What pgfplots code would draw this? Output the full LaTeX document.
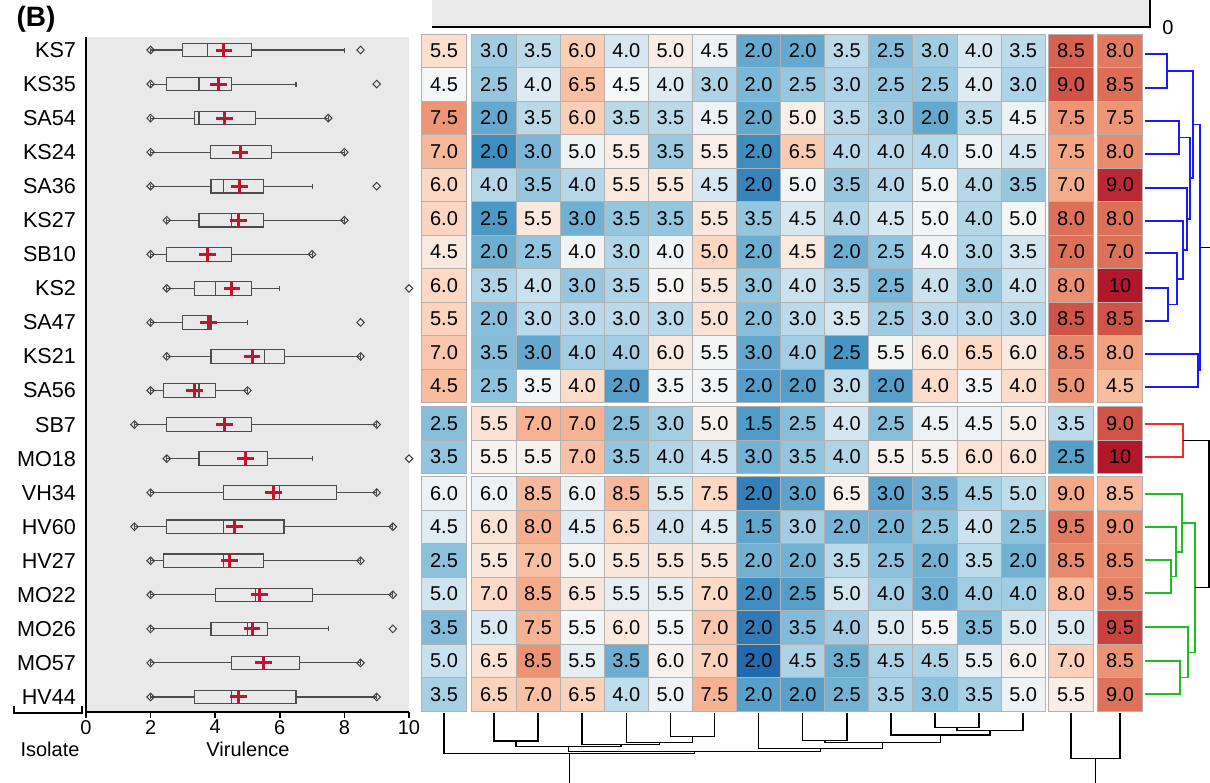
\documentclass[border=0pt]{standalone}
\usepackage{fontspec}
\setmainfont{Liberation Sans}
\usepackage{pgfplots}
\usepackage{pgfplotstable}
\pgfplotsset{compat=1.18}
\usepgfplotslibrary{statistics}
\pgfdeclareplotmark{cell}{\pgfpathrectangle{\pgfpoint{-11.025pt}{-8.375pt}}{\pgfpoint{22.05pt}{16.75pt}}\pgfusepathqfillstroke}
\definecolor{meanred}{RGB}{196,18,48}
\definecolor{dblue}{RGB}{25,25,255}
\definecolor{dred}{RGB}{255,40,40}
\definecolor{dgreen}{RGB}{30,190,30}
\definecolor{bggray}{RGB}{233,233,233}
\newcommand{\colx}[1]{\ifcase#1\or444\or494\or538.1\or582.2\or626.3\or670.4\or714.5\or758.6\or802.7\or846.8\or890.9\or935\or979.1\or1023.2\or1071\or1120\fi}

\pgfplotstableread{
y c1 c2 c3 c4 c5 c6 c7 c8 c9 c10 c11 c12 c13 c14 c15 c16
50.75 5.5 3.0 3.5 6.0 4.0 5.0 4.5 2.0 2.0 3.5 2.5 3.0 4.0 3.5 8.5 8.0
84.25 4.5 2.5 4.0 6.5 4.5 4.0 3.0 2.0 2.5 3.0 2.5 2.5 4.0 3.0 9.0 8.5
117.75 7.5 2.0 3.5 6.0 3.5 3.5 4.5 2.0 5.0 3.5 3.0 2.0 3.5 4.5 7.5 7.5
151.25 7.0 2.0 3.0 5.0 5.5 3.5 5.5 2.0 6.5 4.0 4.0 4.0 5.0 4.5 7.5 8.0
184.75 6.0 4.0 3.5 4.0 5.5 5.5 4.5 2.0 5.0 3.5 4.0 5.0 4.0 3.5 7.0 9.0
218.25 6.0 2.5 5.5 3.0 3.5 3.5 5.5 3.5 4.5 4.0 4.5 5.0 4.0 5.0 8.0 8.0
251.75 4.5 2.0 2.5 4.0 3.0 4.0 5.0 2.0 4.5 2.0 2.5 4.0 3.0 3.5 7.0 7.0
285.25 6.0 3.5 4.0 3.0 3.5 5.0 5.5 3.0 4.0 3.5 2.5 4.0 3.0 4.0 8.0 10
318.75 5.5 2.0 3.0 3.0 3.0 3.0 5.0 2.0 3.0 3.5 2.5 3.0 3.0 3.0 8.5 8.5
352.25 7.0 3.5 3.0 4.0 4.0 6.0 5.5 3.0 4.0 2.5 5.5 6.0 6.5 6.0 8.5 8.0
385.75 4.5 2.5 3.5 4.0 2.0 3.5 3.5 2.0 2.0 3.0 2.0 4.0 3.5 4.0 5.0 4.5
423.25 2.5 5.5 7.0 7.0 2.5 3.0 5.0 1.5 2.5 4.0 2.5 4.5 4.5 5.0 3.5 9.0
456.75 3.5 5.5 5.5 7.0 3.5 4.0 4.5 3.0 3.5 4.0 5.5 5.5 6.0 6.0 2.5 10
493.25 6.0 6.0 8.5 6.0 8.5 5.5 7.5 2.0 3.0 6.5 3.0 3.5 4.5 5.0 9.0 8.5
526.75 4.5 6.0 8.0 4.5 6.5 4.0 4.5 1.5 3.0 2.0 2.0 2.5 4.0 2.5 9.5 9.0
560.25 2.5 5.5 7.0 5.0 5.5 5.5 5.5 2.0 2.0 3.5 2.5 2.0 3.5 2.0 8.5 8.5
593.75 5.0 7.0 8.5 6.5 5.5 5.5 7.0 2.0 2.5 5.0 4.0 3.0 4.0 4.0 8.0 9.5
627.25 3.5 5.0 7.5 5.5 6.0 5.5 7.0 2.0 3.5 4.0 5.0 5.5 3.5 5.0 5.0 9.5
660.75 5.0 6.5 8.5 5.5 3.5 6.0 7.0 2.0 4.5 3.5 4.5 4.5 5.5 6.0 7.0 8.5
694.25 3.5 6.5 7.0 6.5 4.0 5.0 7.5 2.0 2.0 2.5 3.5 3.0 3.5 5.0 5.5 9.0
}\heat
\pgfplotstablecreatecol[create col/expr={(\thisrow{c1}+\thisrow{c2}+\thisrow{c3}+\thisrow{c4}+\thisrow{c5}+\thisrow{c6}+\thisrow{c7}+\thisrow{c8}+\thisrow{c9}+\thisrow{c10}+\thisrow{c11}+\thisrow{c12}+\thisrow{c13}+\thisrow{c14}+\thisrow{c15}+\thisrow{c16})/16}]{mean}{\heat}
\pgfplotstablecreatecol[create col/expr={sqrt((\thisrow{c1}*\thisrow{c1}+\thisrow{c2}*\thisrow{c2}+\thisrow{c3}*\thisrow{c3}+\thisrow{c4}*\thisrow{c4}+\thisrow{c5}*\thisrow{c5}+\thisrow{c6}*\thisrow{c6}+\thisrow{c7}*\thisrow{c7}+\thisrow{c8}*\thisrow{c8}+\thisrow{c9}*\thisrow{c9}+\thisrow{c10}*\thisrow{c10}+\thisrow{c11}*\thisrow{c11}+\thisrow{c12}*\thisrow{c12}+\thisrow{c13}*\thisrow{c13}+\thisrow{c14}*\thisrow{c14}+\thisrow{c15}*\thisrow{c15}+\thisrow{c16}*\thisrow{c16}-16*\thisrow{mean}*\thisrow{mean})/15)}]{sd}{\heat}

\begin{document}
\begin{tikzpicture}
\useasboundingbox (0,0) rectangle (605pt,-391pt);
\begin{axis}[
  at={(0pt,0pt)}, anchor=north west,
  scale only axis, width=605pt, height=391pt,
  xmin=0, xmax=1210, ymin=0, ymax=782, y dir=reverse,
  hide axis, clip=false,
  colormap={rdbu}{[1pt] rgb255(0pt)=(33,102,172) rgb255(5pt)=(67,147,195) rgb255(12pt)=(146,197,222) rgb255(18pt)=(209,229,240) rgb255(22pt)=(247,247,247) rgb255(27pt)=(253,219,199) rgb255(35pt)=(244,165,130) rgb255(42pt)=(214,96,77) rgb255(47pt)=(178,24,43)},
  point meta min=-2.0, point meta max=2.7,
  dend/.style={line width=0.75pt},
]
% top grey bar
\fill[bggray] (axis cs:432,0) rectangle (axis cs:1150,27);
\draw[line width=0.9pt] (axis cs:432,27) -- (axis cs:1150,27) -- (axis cs:1150,-2);
\node[font=\fontsize{10}{12}\selectfont] at (axis cs:1168,28) {0};
\node[font=\fontsize{14}{16}\selectfont\bfseries] at (axis cs:36,19) {(B)};
\node[font=\fontsize{10}{12}\selectfont] at (axis cs:50,749) {Isolate};
\node[font=\fontsize{10}{12}\selectfont] at (axis cs:248,749) {Virulence};
\draw[line width=0.9pt] (axis cs:14,706) -- (axis cs:14,713) -- (axis cs:82,713) -- (axis cs:82,706);

% heat map cells
\pgfplotsinvokeforeach{1,...,16}{
\addplot[scatter, only marks, mark=cell,
  scatter/use mapped color={draw=black!30, fill=mapped color},
  mark options={line width=0.5pt},
  point meta={(\thisrow{c#1}-\thisrow{mean})/\thisrow{sd}}]
  table[x expr=\colx{#1}, y=y] {\heat};
\addplot[draw=none, mark=none, point meta=explicit symbolic,
  nodes near coords, nodes near coords align={center},
  every node near coord/.append style={font=\fontsize{10}{12}\selectfont, text=black, anchor=center, inner sep=0pt}]
  table[x expr=\colx{#1}, y=y, meta=c#1] {\heat};
}

% row dendrogram
\addplot[dend, dblue] coordinates {(1145,54)(1167,54)(1167,88)(1145,88)};
\addplot[dend, dblue] coordinates {(1145,121)(1179,121)(1179,154)(1145,154)};
\addplot[dend, dblue] coordinates {(1145,288)(1168,288)(1168,321)(1145,321)};
\addplot[dend, dblue] coordinates {(1145,253)(1177,253)(1177,304.5)(1168,304.5)};
\addplot[dend, dblue] coordinates {(1145,221)(1183,221)(1183,278.75)(1177,278.75)};
\addplot[dend, dblue] coordinates {(1145,188)(1187,188)(1187,249.9)(1183,249.9)};
\addplot[dend, dblue] coordinates {(1179,137.5)(1190,137.5)(1190,218.9)(1187,218.9)};
\addplot[dend, dblue] coordinates {(1167,71)(1193,71)(1193,178.2)(1190,178.2)};
\addplot[dend, dblue] coordinates {(1145,354)(1198,354)(1198,387)(1145,387)};
\addplot[dend, dblue] coordinates {(1193,124.6)(1200,124.6)(1200,370.5)(1198,370.5)};
\addplot[dend, black] coordinates {(1200,247.5)(1215,247.5)};
\addplot[dend, dred] coordinates {(1145,424)(1183,424)(1183,457)(1145,457)};
\addplot[dend, dgreen] coordinates {(1145,560)(1171,560)(1171,593)(1145,593)};
\addplot[dend, dgreen] coordinates {(1145,527)(1176,527)(1176,576.5)(1171,576.5)};
\addplot[dend, dgreen] coordinates {(1145,494)(1182,494)(1182,551.75)(1176,551.75)};
\addplot[dend, dgreen] coordinates {(1145,661)(1180,661)(1180,694)(1145,694)};
\addplot[dend, dgreen] coordinates {(1145,627)(1188,627)(1188,677.5)(1180,677.5)};
\addplot[dend, dgreen] coordinates {(1182,522.9)(1195,522.9)(1195,652.25)(1188,652.25)};
\addplot[dend, black] coordinates {(1183,440.5)(1209,440.5)(1209,587.6)(1195,587.6)};
\addplot[dend, black] coordinates {(1209,514)(1215,514)};

% column dendrogram
\addplot[dend, black] coordinates {(494,713)(494,741)(538.1,741)(538.1,713)};
\addplot[dend, black] coordinates {(670.4,713)(670.4,736.7)(714.5,736.7)(714.5,713)};
\addplot[dend, black] coordinates {(626.3,713)(626.3,742.3)(692.45,742.3)(692.45,736.7)};
\addplot[dend, black] coordinates {(582.2,713)(582.2,744.5)(659.4,744.5)(659.4,742.3)};
\addplot[dend, black] coordinates {(516.05,741)(516.05,746.5)(620.8,746.5)(620.8,744.5)};
\addplot[dend, black] coordinates {(935,713)(935,727.7)(979.1,727.7)(979.1,713)};
\addplot[dend, black] coordinates {(957.05,727.7)(957.05,730.7)(1023.2,730.7)(1023.2,713)};
\addplot[dend, black] coordinates {(890.9,713)(890.9,735)(990.1,735)(990.1,730.7)};
\addplot[dend, black] coordinates {(802.7,713)(802.7,740.7)(846.8,740.7)(846.8,713)};
\addplot[dend, black] coordinates {(824.75,740.7)(824.75,742.5)(940.5,742.5)(940.5,735)};
\addplot[dend, black] coordinates {(758.6,713)(758.6,748.3)(882.6,748.3)(882.6,742.5)};
\addplot[dend, black] coordinates {(568.4,746.5)(568.4,751.7)(820.6,751.7)(820.6,748.3)};
\addplot[dend, black] coordinates {(444,713)(444,753.7)(694.5,753.7)(694.5,751.7)};
\addplot[dend, black] coordinates {(569.25,753.7)(569.25,790)};
\addplot[dend, black] coordinates {(1071,713)(1071,758.3)(1120,758.3)(1120,713)};
\addplot[dend, black] coordinates {(1095.5,758.3)(1095.5,790)};
\end{axis}

\begin{axis}[
  at={(43pt,-18.5pt)}, anchor=north west,
  scale only axis, width=161.5pt, height=337.5pt,
  xmin=0, xmax=10, ymin=37, ymax=712, y dir=reverse,
  axis x line*=bottom, axis y line*=left,
  axis line style={line width=0.9pt, -},
  axis background/.style={fill=bggray},
  xtick={0,2,4,6,8,10},
  ytick={50,84.05,118.1,152.15,186.2,220.25,254.3,288.35,322.4,356.45,390.5,424.55,458.6,492.65,526.7,560.75,594.8,628.85,662.9,696.95},
  yticklabels={KS7,KS35,SA54,KS24,SA36,KS27,SB10,KS2,SA47,KS21,SA56,SB7,MO18,VH34,HV60,HV27,MO22,MO26,MO57,HV44},
  ytick style={draw=none},
  xtick style={line width=0.8pt, black},
  tick align=outside, major tick length=3pt,
  /pgf/number format/assume math mode=true,
  xticklabel style={font=\fontsize{10}{12}\selectfont, yshift=2.5pt},
  yticklabel style={font=\fontsize{10.8}{13}\selectfont, xshift=1.5pt},
  clip=false,
  boxplot/draw direction=x,
  boxplot/box extend=13.5,
  boxplot/whisker extend=5,
  bx/.style={draw=black!70, line width=0.55pt, solid},
]
\addplot[only marks, mark=diamond, mark size=1.9pt, mark options={draw=black!75, fill=white, line width=0.5pt, xscale=1.3}] coordinates {
(2,50)(8.5,50)(2,84.05)(9,84.05)(2,118.1)(7.5,118.1)(2,152.15)(8,152.15)(2,186.2)(9,186.2)
(2.5,220.25)(8,220.25)(2,254.3)(7,254.3)(2.5,288.35)(10,288.35)(2,322.4)(8.5,322.4)(2.5,356.45)(8.5,356.45)
(2,390.5)(5,390.5)(1.5,424.55)(9,424.55)(2.5,458.6)(10,458.6)(2,492.65)(9,492.65)(1.5,526.7)(9.5,526.7)
(2,560.75)(8.5,560.75)(2,594.8)(9.5,594.8)(2,628.85)(9.5,628.85)(2,662.9)(8.5,662.9)(2,696.95)(9,696.95)};
\addplot[bx, boxplot prepared={draw position=50, lower whisker=2, lower quartile=3, median=3.75, upper quartile=5.13, upper whisker=8}] coordinates {};
\addplot[bx, boxplot prepared={draw position=84.05, lower whisker=2, lower quartile=2.5, median=3.5, upper quartile=4.5, upper whisker=6.5}] coordinates {};
\addplot[bx, boxplot prepared={draw position=118.1, lower whisker=2, lower quartile=3.35, median=3.5, upper quartile=5.25, upper whisker=7.5}] coordinates {};
\addplot[bx, boxplot prepared={draw position=152.15, lower whisker=2, lower quartile=3.85, median=4.75, upper quartile=5.75, upper whisker=8}] coordinates {};
\addplot[bx, boxplot prepared={draw position=186.2, lower whisker=2, lower quartile=3.87, median=4.25, upper quartile=5.5, upper whisker=7}] coordinates {};
\addplot[bx, boxplot prepared={draw position=220.25, lower whisker=2.5, lower quartile=3.5, median=4.5, upper quartile=5.5, upper whisker=8}] coordinates {};
\addplot[bx, boxplot prepared={draw position=254.3, lower whisker=2, lower quartile=2.5, median=3.75, upper quartile=4.5, upper whisker=7}] coordinates {};
\addplot[bx, boxplot prepared={draw position=288.35, lower whisker=2.5, lower quartile=3.35, median=4, upper quartile=5.13, upper whisker=6}] coordinates {};
\addplot[bx, boxplot prepared={draw position=322.4, lower whisker=2, lower quartile=3, median=3.85, upper quartile=3.88, upper whisker=5}] coordinates {};
\addplot[bx, boxplot prepared={draw position=356.45, lower whisker=2.5, lower quartile=3.87, median=5.52, upper quartile=6.15, upper whisker=8.5}] coordinates {};
\addplot[bx, boxplot prepared={draw position=390.5, lower whisker=2, lower quartile=2.4, median=3.5, upper quartile=4, upper whisker=5}] coordinates {};
\addplot[bx, boxplot prepared={draw position=424.55, lower whisker=1.5, lower quartile=2.5, median=4.25, upper quartile=5.13, upper whisker=9}] coordinates {};
\addplot[bx, boxplot prepared={draw position=458.6, lower whisker=2.5, lower quartile=3.5, median=4.95, upper quartile=5.63, upper whisker=7}] coordinates {};
\addplot[bx, boxplot prepared={draw position=492.65, lower whisker=2, lower quartile=4.25, median=6, upper quartile=7.75, upper whisker=9}] coordinates {};
\addplot[bx, boxplot prepared={draw position=526.7, lower whisker=1.5, lower quartile=2.5, median=4.25, upper quartile=6.13, upper whisker=9.5}] coordinates {};
\addplot[bx, boxplot prepared={draw position=560.75, lower whisker=2, lower quartile=2.4, median=4.25, upper quartile=5.5, upper whisker=8.5}] coordinates {};
\addplot[bx, boxplot prepared={draw position=594.8, lower whisker=2, lower quartile=4, median=5.25, upper quartile=7, upper whisker=9.5}] coordinates {};
\addplot[bx, boxplot prepared={draw position=628.85, lower whisker=2, lower quartile=3.87, median=5, upper quartile=5.63, upper whisker=7.5}] coordinates {};
\addplot[bx, boxplot prepared={draw position=662.9, lower whisker=2, lower quartile=4.5, median=5.5, upper quartile=6.6, upper whisker=8.5}] coordinates {};
\addplot[bx, boxplot prepared={draw position=696.95, lower whisker=2, lower quartile=3.37, median=4.5, upper quartile=6.5, upper whisker=9}] coordinates {};
\addplot[only marks, mark=+, mark size=4.2pt, mark options={meanred, line width=1.5pt, yscale=0.78}] coordinates {
(4.27,50)(4.1,84.05)(4.3,118.1)(4.77,152.15)(4.75,186.2)(4.72,220.25)(3.77,254.3)(4.52,288.35)(3.8,322.4)(5.14,356.45)
(3.35,390.5)(4.3,424.55)(4.95,458.6)(5.8,492.65)(4.6,526.7)(4.44,560.75)(5.38,594.8)(5.14,628.85)(5.49,662.9)(4.73,696.95)};
\end{axis}
\end{tikzpicture}
\end{document}
